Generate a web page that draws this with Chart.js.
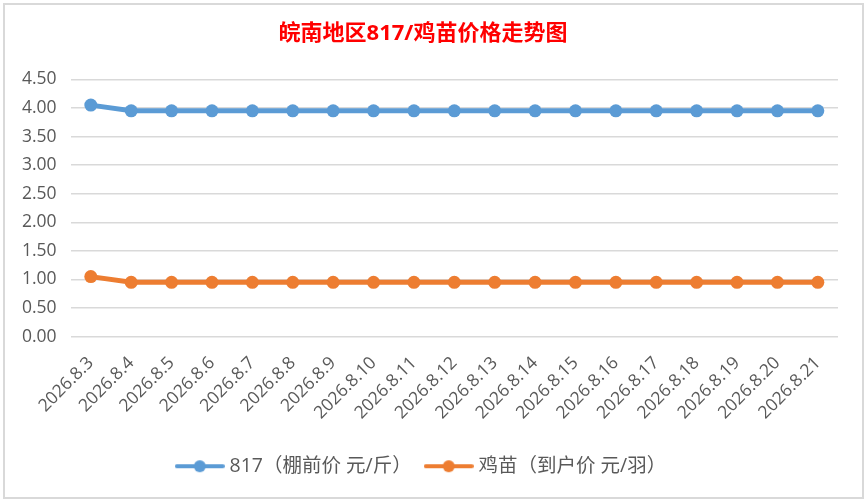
<!DOCTYPE html>
<html>
<head>
<meta charset="utf-8">
<script src="https://cdn.jsdelivr.net/npm/chart.js@4.4.1/dist/chart.umd.min.js"></script>
<style>
  html, body { margin: 0; padding: 0; background: #fff; }
  #box {
    position: absolute; left: 3px; top: 3px;
    width: 857px; height: 492px;
    border: 2px solid #d9d9d9;
  }
  #box canvas { display: block; }
</style>
</head>
<body>
<div id="box"><canvas id="priceChart" width="857" height="492"></canvas></div>
<script>
const dates = ['2026.8.3', '2026.8.4', '2026.8.5', '2026.8.6', '2026.8.7', '2026.8.8', '2026.8.9',
  '2026.8.10', '2026.8.11', '2026.8.12', '2026.8.13', '2026.8.14', '2026.8.15', '2026.8.16',
  '2026.8.17', '2026.8.18', '2026.8.19', '2026.8.20', '2026.8.21'];
const price817 = [4.05, 3.95, 3.95, 3.95, 3.95, 3.95, 3.95, 3.95, 3.95, 3.95, 3.95, 3.95, 3.95, 3.95, 3.95, 3.95, 3.95, 3.95, 3.95];
const priceChick = [1.05, 0.95, 0.95, 0.95, 0.95, 0.95, 0.95, 0.95, 0.95, 0.95, 0.95, 0.95, 0.95, 0.95, 0.95, 0.95, 0.95, 0.95, 0.95];
const seriesNames = ['817（棚前价 元/斤）', '鸡苗（到户价 元/羽）'];
const colors = ['#5b9bd5', '#ed7d31'];

const FONT = "'Open Sans', 'Noto Sans CJK SC', sans-serif";
const TEXT = '#595959';

// little line-with-dot picture for the legend
function legendMark(color) {
  const c = document.createElement('canvas');
  c.width = 50; c.height = 14;
  const g = c.getContext('2d');
  g.strokeStyle = color;
  g.lineWidth = 4;
  g.lineCap = 'round';
  g.beginPath(); g.moveTo(2, 7); g.lineTo(48, 7); g.stroke();
  g.fillStyle = color;
  g.beginPath(); g.arc(25, 7, 6, 0, Math.PI * 2); g.fill();
  return c;
}

const ctx = document.getElementById('priceChart').getContext('2d');
new Chart(ctx, {
  type: 'line',
  data: {
    labels: dates,
    datasets: [price817, priceChick].map((values, i) => ({
      label: seriesNames[i],
      data: values,
      borderColor: colors[i],
      backgroundColor: colors[i],
      borderWidth: 5,
      pointRadius: 6.5,
      pointHoverRadius: 6.5,
      pointBorderWidth: 0,
      tension: 0
    }))
  },
  options: {
    responsive: false,
    animation: false,
    layout: { padding: { left: 3, right: 24, top: 0, bottom: 11 } },
    plugins: {
      title: {
        display: true,
        text: '皖南地区817/鸡苗价格走势图',
        color: '#ff0000',
        font: { family: FONT, size: 22, weight: 'bold' },
        padding: { top: 16, bottom: 32 }
      },
      legend: {
        position: 'bottom',
        labels: {
          usePointStyle: true,
          pointStyleWidth: 40,
          generateLabels: chart => chart.data.datasets.map((ds, i) => ({
            text: ds.label,
            pointStyle: legendMark(colors[i]),
            fontColor: TEXT,
            datasetIndex: i,
            lineWidth: 0
          })),
          color: TEXT,
          font: { family: FONT, size: 19.5 },
          padding: 17
        }
      },
      tooltip: { enabled: false }
    },
    scales: {
      x: {
        offset: true,
        grid: { display: false, drawTicks: false },
        border: { display: false },
        ticks: {
          color: TEXT,
          font: { family: FONT, size: 17.5 },
          minRotation: 45,
          maxRotation: 45,
          autoSkip: false,
          padding: 16
        }
      },
      y: {
        min: 0,
        max: 4.5,
        grid: { color: '#d9d9d9', lineWidth: 1.5, drawTicks: false },
        border: { display: false },
        ticks: {
          stepSize: 0.5,
          color: TEXT,
          font: { family: FONT, size: 17.5 },
          padding: 14,
          callback: v => v.toFixed(2)
        }
      }
    }
  }
});
</script>
</body>
</html>
